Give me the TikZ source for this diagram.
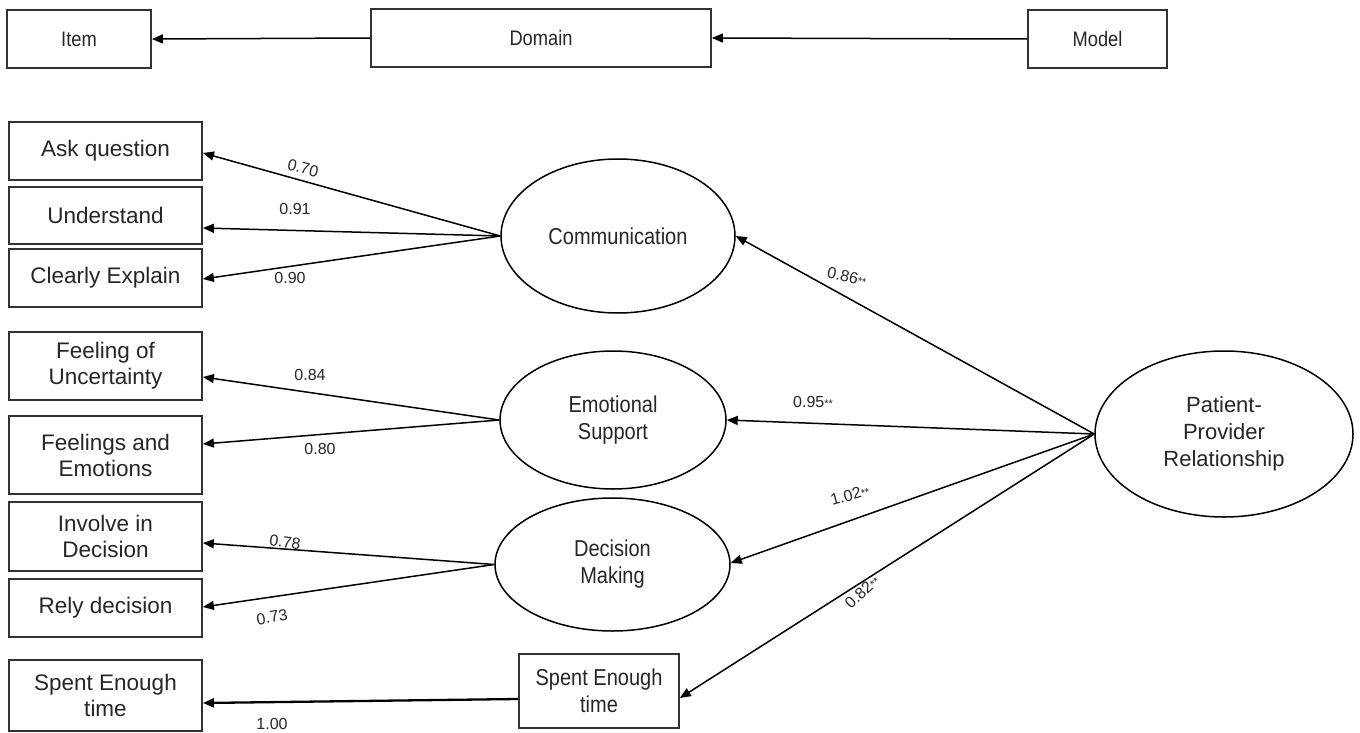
\documentclass[tikz,border=0pt]{standalone}
\usepackage{fontspec}
\setmainfont{Liberation Sans}
\newfontfamily\narrowsans[FakeStretch=0.87]{Liberation Sans}
\usetikzlibrary{shapes.geometric,arrows.meta}
\newcommand{\stars}{{\fontsize{11}{11}\selectfont **}}
\begin{document}
\begin{tikzpicture}[x=1pt,y=-1pt,
  box/.style={draw=black!80,line width=1.8pt,fill=white,align=center,inner sep=0pt,text=black!85},
  topbox/.style={box,font=\narrowsans\fontsize{21}{24}\selectfont,minimum height=58pt},
  itembox/.style={box,font=\fontsize{22.5}{26}\selectfont,minimum width=193pt},
  latent/.style={ellipse,draw=black,line width=1.5pt,fill=white,align=center,inner sep=0pt,text=black!85,font=\narrowsans\fontsize{23}{27}\selectfont},
  arr/.style={-{Triangle[length=11pt,width=9pt]},line width=1.5pt,draw=black},
  lab/.style={font=\fontsize{16}{17}\selectfont,text=black!85,inner sep=0pt}]
\useasboundingbox (0,0) rectangle (1360,733);
% top legend
\node[topbox,minimum width=144pt] (item) at (79,39) {Item};
\node[topbox,minimum width=340pt] (domain) at (541,38) {Domain};
\node[topbox,minimum width=139pt] (model) at (1097.5,39) {Model};
\draw[arr] (domain.west) -- (item.east);
\draw[arr] (model.west) -- (domain.east);
% item boxes
\node[itembox,minimum height=58pt] (ask) at (105.5,151) {Ask question};
\node[itembox,minimum height=57pt] (und) at (105.5,215.5) {Understand};
\node[itembox,minimum height=58pt] (clr) at (105.5,278) {Clearly Explain};
\node[itembox,minimum height=68pt] (unc) at (105.5,366) {Feeling of\\Uncertainty};
\node[itembox,minimum height=78pt] (emo2) at (105.5,455) {Feelings and\\Emotions};
\node[itembox,minimum height=69pt] (inv) at (105.5,536.5) {Involve in\\Decision};
\node[itembox,minimum height=58pt] (rely) at (105.5,608) {Rely decision};
\node[itembox,minimum height=71pt] (spl) at (105.5,695.5) {Spent Enough\\time};
% latent variables
\node[latent,minimum width=234pt,minimum height=154pt] (comm) at (618,236) {Communication};
\node[latent,minimum width=226pt,minimum height=138pt] (emo) at (613,420) {Emotional\\Support};
\node[latent,minimum width=235pt,minimum height=133pt] (dec) at (612.5,564.5) {Decision\\Making};
\node[box,font=\narrowsans\fontsize{23}{27}\selectfont,minimum width=160pt,minimum height=74pt] (spm) at (599,691) {Spent Enough\\time};
\node[latent,minimum width=258pt,minimum height=166pt,font=\fontsize{22}{27}\selectfont] (ppr) at (1224,434) {Patient-\\Provider\\Relationship};
% loadings
\draw[arr] (comm.west) -- ([yshift=-2pt]ask.east);
\draw[arr] (comm.west) -- ([yshift=-12.5pt]und.east);
\draw[arr] (comm.west) -- ([yshift=-1pt]clr.east);
\draw[arr] (emo.west) -- ([yshift=-11pt]unc.east);
\draw[arr] (emo.west) -- ([yshift=11pt]emo2.east);
\draw[arr] (dec.west) -- ([yshift=-6.5pt]inv.east);
\draw[arr] (dec.west) -- ([yshift=1pt]rely.east);
\draw[arr,line width=2.3pt] ([yshift=-8pt]spm.west) -- ([yshift=-7.5pt]spl.east);
% structural paths
\draw[arr] (ppr.west) -- (comm.east);
\draw[arr] (ppr.west) -- (emo.east);
\draw[arr] (ppr.west) -- ([yshift=1.5pt]dec.east);
\draw[arr] (ppr.west) -- ([yshift=-7pt]spm.east);
% labels
\node[lab,rotate=-15] (l1) at (303,168) {0.70};
\node[lab] (l2) at (295,209) {0.91};
\node[lab] (l3) at (290,278) {0.90};
\node[lab] (l4) at (310,375) {0.84};
\node[lab] (l5) at (320,449) {0.80};
\node[lab,rotate=-8] (l6) at (285,542) {0.78};
\node[lab,rotate=10] (l7) at (272,617) {0.73};
\node[lab] (l8) at (272,724) {1.00};
\node[lab,rotate=-13] (l9) at (847,277) {0.86\stars};
\node[lab] (l10) at (813,402) {0.95\stars};
\node[lab,rotate=16] (l11) at (850,495) {1.02\stars};
\node[lab,rotate=42] (l12) at (862,592) {0.82\stars};
\end{tikzpicture}
\end{document}
